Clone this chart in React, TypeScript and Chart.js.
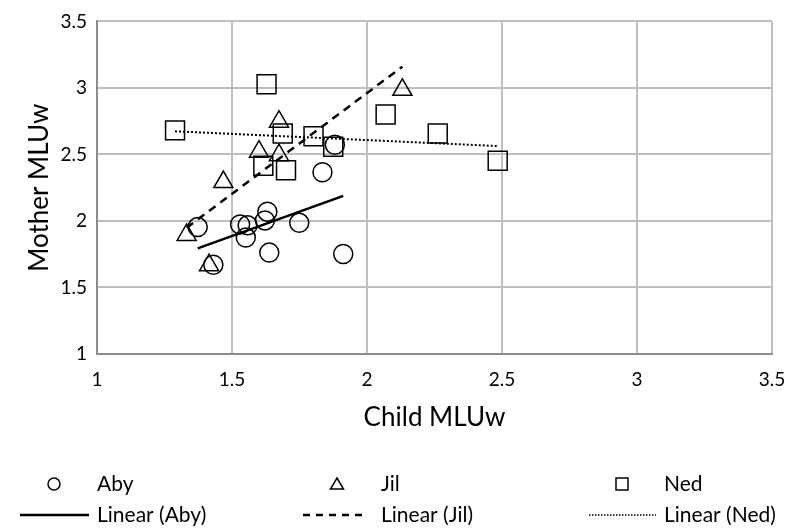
import React, { useEffect, useRef } from 'react';
import { Chart, registerables } from 'chart.js';
Chart.register(...registerables);

// Data
const abyX = [1.373, 1.431, 1.530, 1.558, 1.551, 1.622, 1.631, 1.638, 1.749, 1.835, 1.881, 1.912];
const abyY = [1.954, 1.671, 1.974, 1.967, 1.875, 2.004, 2.070, 1.762, 1.986, 2.366, 2.573, 1.752];
const jilX = [1.332, 1.415, 1.468, 1.600, 1.674, 1.674, 2.131];
const jilY = [1.895, 1.668, 2.292, 2.521, 2.494, 2.746, 2.986];
const nedX = [1.289, 1.616, 1.628, 1.688, 1.700, 1.802, 1.875, 2.069, 2.262, 2.484];
const nedY = [2.681, 2.415, 3.027, 2.657, 2.381, 2.637, 2.558, 2.800, 2.657, 2.452];

const abyTrendX = [1.373, 1.912];
const abyTrendY = [1.794, 2.189];
const jilTrendX = [1.332, 2.131];
const jilTrendY = [1.949, 3.16];
const nedTrendX = [1.289, 2.484];
const nedTrendY = [2.674, 2.563];

const seriesNames = ['Aby', 'Jil', 'Ned'];
const trendNames = ['Linear (Aby)', 'Linear (Jil)', 'Linear (Ned)'];
const xTitle = 'Child MLUw';
const yTitle = 'Mother MLUw';

const FONT = 'Lato, "Open Sans", sans-serif';

const toPts = (xs: number[], ys: number[]) => xs.map((x, i) => ({ x, y: ys[i] }));

const overlay = {
  id: 'overlay',
  afterDraw(chart: any) {
    const c = chart.ctx as CanvasRenderingContext2D;
    const area = chart.chartArea;
    c.save();
    c.fillStyle = '#000';
    c.strokeStyle = '#000';
    // axis titles
    c.font = `26px ${FONT}`;
    c.textAlign = 'center';
    c.textBaseline = 'middle';
    c.fillText(xTitle, (area.left + area.right) / 2, 418);
    c.save();
    c.translate(40, (area.top + area.bottom) / 2);
    c.rotate(-Math.PI / 2);
    c.fillText(yTitle, 0, 0);
    c.restore();

    // legend
    const row1 = 484;
    const row2 = 515;
    const markerX = [54, 337, 622];
    const textX = [97, 381, 664];
    const lineSeg = [[20, 89], [303, 368], [589, 656]];
    c.font = `21px ${FONT}`;
    c.textAlign = 'left';
    c.lineWidth = 1.5;
    // circle
    c.beginPath();
    c.arc(markerX[0], row1, 6, 0, Math.PI * 2);
    c.stroke();
    // triangle
    c.beginPath();
    c.moveTo(markerX[1], row1 - 6);
    c.lineTo(markerX[1] + 6.5, row1 + 5);
    c.lineTo(markerX[1] - 6.5, row1 + 5);
    c.closePath();
    c.stroke();
    // square
    c.strokeRect(markerX[2] - 6, row1 - 6, 12, 12);
    for (let i = 0; i < 3; i++) c.fillText(seriesNames[i], textX[i], row1);

    // line samples
    c.lineWidth = 2.5;
    c.setLineDash([]);
    c.beginPath();
    c.moveTo(lineSeg[0][0], row2);
    c.lineTo(lineSeg[0][1], row2);
    c.stroke();
    c.setLineDash([7, 6]);
    c.beginPath();
    c.moveTo(lineSeg[1][0], row2);
    c.lineTo(lineSeg[1][1], row2);
    c.stroke();
    c.lineWidth = 1.5;
    c.setLineDash([1.5, 1.5]);
    c.beginPath();
    c.moveTo(lineSeg[2][0], row2);
    c.lineTo(lineSeg[2][1], row2);
    c.stroke();
    c.setLineDash([]);
    for (let i = 0; i < 3; i++) c.fillText(trendNames[i], textX[i], row2);
    c.restore();
  },
};

const tickFmt = (v: any) => String(Number(v));

export default function App() {
  const ref = useRef<HTMLCanvasElement>(null);
  useEffect(() => {
    document.body.style.margin = '0';
    const canvas = ref.current!;
    const markerCommon = {
      borderColor: '#000',
      backgroundColor: 'rgba(0,0,0,0)',
      pointBorderWidth: 1.5,
      showLine: false,
    };
    const chart = new Chart(canvas, {
      type: 'scatter',
      data: {
        datasets: [
          { ...markerCommon, label: seriesNames[0], data: toPts(abyX, abyY), pointStyle: 'circle', pointRadius: 9.5 },
          { ...markerCommon, label: seriesNames[1], data: toPts(jilX, jilY), pointStyle: 'triangle', pointRadius: 11 },
          { ...markerCommon, label: seriesNames[2], data: toPts(nedX, nedY), pointStyle: 'rect', pointRadius: 13.4 },
          { label: trendNames[0], data: toPts(abyTrendX, abyTrendY), showLine: true, pointRadius: 0, borderColor: '#000', borderWidth: 2.5 },
          { label: trendNames[1], data: toPts(jilTrendX, jilTrendY), showLine: true, pointRadius: 0, borderColor: '#000', borderWidth: 2.5, borderDash: [8, 6] },
          { label: trendNames[2], data: toPts(nedTrendX, nedTrendY), showLine: true, pointRadius: 0, borderColor: '#000', borderWidth: 2, borderDash: [2, 2] },
        ],
      } as any,
      options: {
        responsive: false,
        animation: false,
        devicePixelRatio: 1,
        layout: { padding: { left: 0, right: 32, top: 15, bottom: 0 } },
        plugins: { legend: { display: false }, tooltip: { enabled: false } },
        scales: {
          x: {
            type: 'linear',
            min: 1,
            max: 3.5,
            ticks: { stepSize: 0.5, color: '#000', font: { family: FONT, size: 19 }, padding: 14, callback: tickFmt },
            grid: { color: '#bfbfbf', lineWidth: 2, drawTicks: false },
            border: { color: '#8c8c8c', width: 2 },
            afterFit(scale: any) { scale.height = 175; },
          },
          y: {
            type: 'linear',
            min: 1,
            max: 3.5,
            ticks: { stepSize: 0.5, color: '#000', font: { family: FONT, size: 19 }, padding: 10, callback: tickFmt },
            grid: { color: '#bfbfbf', lineWidth: 2, drawTicks: false },
            border: { color: '#8c8c8c', width: 2 },
            afterFit(scale: any) { scale.width = 97; },
          },
        },
      } as any,
      plugins: [overlay],
    });
    return () => chart.destroy();
  }, []);
  return <canvas ref={ref} width={804} height={529} style={{ display: 'block' }} />;
}
